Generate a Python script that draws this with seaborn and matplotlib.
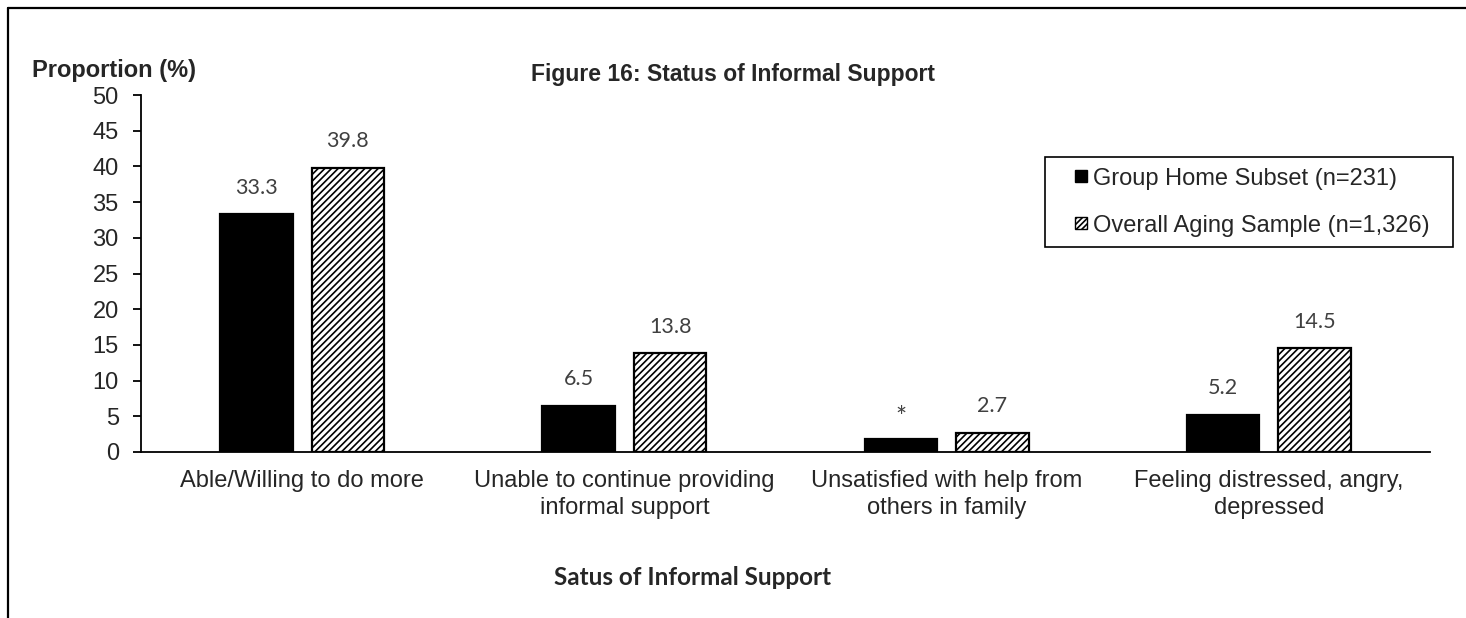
import matplotlib
matplotlib.use("Agg")
import matplotlib.pyplot as plt
from matplotlib.lines import Line2D
from matplotlib.patches import Rectangle
from matplotlib.legend_handler import HandlerPatch
import seaborn as sns
import pandas as pd

categories = [
    "Able/Willing to do more",
    "Unable to continue providing\ninformal support",
    "Unsatisfied with help from\nothers in family",
    "Feeling distressed, angry,\ndepressed",
]
series_names = ["Group Home Subset (n=231)", "Overall Aging Sample (n=1,326)"]
group_home = [33.3, 6.5, 1.8, 5.2]
overall = [39.8, 13.8, 2.7, 14.5]
group_home_labels = ["33.3", "6.5", "*", "5.2"]
overall_labels = ["39.8", "13.8", "2.7", "14.5"]
y_ticks = list(range(0, 51, 5))

df = pd.DataFrame({
    "category": categories * 2,
    "series": [series_names[0]] * 4 + [series_names[1]] * 4,
    "value": group_home + overall,
})

sns.set_theme(style="white")
plt.rcParams["font.family"] = ["Liberation Sans", "DejaVu Sans"]
plt.rcParams["hatch.linewidth"] = 1.2

W, H = 1466, 618
fig = plt.figure(figsize=(W / 100, H / 100), dpi=100)
ax = fig.add_axes([141 / W, 1 - 452 / H, (1430 - 141) / W, (452 - 95) / H])

sns.barplot(
    data=df, x="category", y="value", hue="series",
    palette=["black", "white"], width=0.568, gap=0.21,
    edgecolor="black", linewidth=1.6, saturation=1,
    ax=ax, legend=False,
)

# hatch the second series
for bar in ax.containers[1]:
    bar.set_hatch("/////")
    bar.set_edgecolor("black")

ax.set_ylim(0, 50)
ax.set_yticks(y_ticks)
ax.set_xlim(-0.5, len(categories) - 0.5)
ax.tick_params(axis="y", which="both", left=True, length=6, width=1.3,
               color="black", labelsize=17, pad=10, direction="out")
ax.tick_params(axis="x", length=0, labelsize=17, pad=13)
for lbl in ax.get_xticklabels():
    lbl.set_linespacing(1.3)
for side in ("top", "right"):
    ax.spines[side].set_visible(False)
for side in ("left", "bottom"):
    ax.spines[side].set_color("black")
    ax.spines[side].set_linewidth(1.3)
ax.set_xlabel("")
ax.set_ylabel("")

# value labels
for cont, labels in zip(ax.containers, [group_home_labels, overall_labels]):
    texts = ax.bar_label(cont, labels=labels, padding=12, fontsize=15.5,
                         color="#404040", family=["Lato", "DejaVu Sans"])
    for t in texts:
        if t.get_text() == "*":
            t.set_fontsize(19)
            t.xyann = (0, 6)


def small_square(legend, orig_handle, xdescent, ydescent, width, height, fontsize):
    side = 0.5 * fontsize
    return Rectangle((-xdescent + width - side, -ydescent + (height - side) / 2),
                     side, side)


handles = [
    Rectangle((0, 0), 1, 1, facecolor="black", edgecolor="black", linewidth=1.0),
    Rectangle((0, 0), 1, 1, facecolor="white", edgecolor="black",
              hatch="//////", linewidth=1.0),
]
leg_left, leg_top, leg_right, leg_bottom = 1045, 157, 1453, 247
leg = fig.legend(
    handles, series_names, loc="upper left",
    bbox_to_anchor=(leg_left / W, 1 - leg_bottom / H,
                    (leg_right - leg_left) / W, (leg_bottom - leg_top) / H),
    mode="expand",
    handler_map={Rectangle: HandlerPatch(patch_func=small_square)},
    fontsize=17, frameon=True, fancybox=False, edgecolor="black",
    framealpha=1, handlelength=1.33, handleheight=0.7, handletextpad=0.25,
    labelspacing=1.06, borderpad=0.45, borderaxespad=0,
)
leg.get_frame().set_linewidth(1.2)

fig.text(0.5, 1 - 81 / H, "Figure 16: Status of Informal Support",
         ha="center", va="baseline", fontsize=16.5, fontweight="bold")
fig.text(32 / W, 1 - 77 / H, "Proportion (%)",
         ha="left", va="baseline", fontsize=17, fontweight="bold")
fig.text(693 / W, 1 - 585 / H, "Satus of Informal Support",
         ha="center", va="baseline", fontsize=17.5, fontweight="bold",
         family=["Lato", "DejaVu Sans"])

# outer frame (top and left edges)
fig.add_artist(Line2D([8 / W, 1.0], [1 - 8 / H, 1 - 8 / H],
                      transform=fig.transFigure, color="black", linewidth=1.6))
fig.add_artist(Line2D([8 / W, 8 / W], [0, 1 - 8 / H],
                      transform=fig.transFigure, color="black", linewidth=1.6))

fig.savefig("out.png", dpi=100, facecolor="white")
